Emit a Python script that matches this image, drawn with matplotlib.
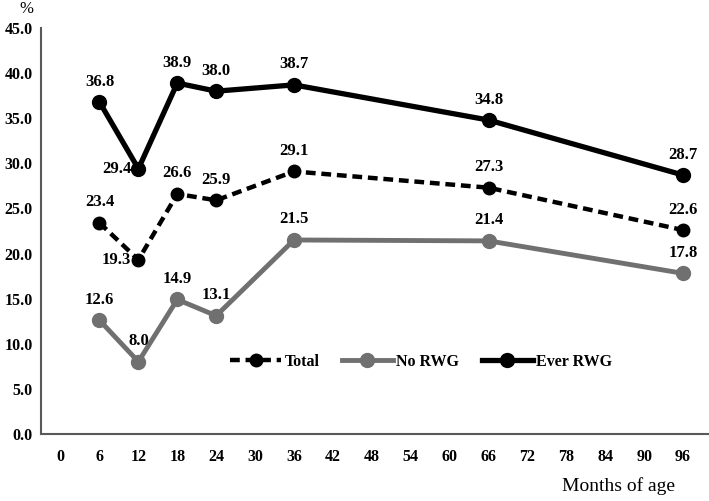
import matplotlib
matplotlib.use("Agg")
import matplotlib.pyplot as plt

# --- Data ---
months = [6, 12, 18, 24, 36, 66, 96]
total = [23.4, 19.3, 26.6, 25.9, 29.1, 27.3, 22.6]
no_rwg = [12.6, 8.0, 14.9, 13.1, 21.5, 21.4, 17.8]
ever_rwg = [36.8, 29.4, 38.9, 38.0, 38.7, 34.8, 28.7]
xticks = list(range(0, 97, 6))
yticks = [0, 5, 10, 15, 20, 25, 30, 35, 40, 45]

plt.rcParams["font.family"] = ["Liberation Serif", "DejaVu Serif"]
plt.rcParams["font.weight"] = "bold"

fig = plt.figure(figsize=(7.09, 5.01), dpi=100)
ax = fig.add_axes([0.058, 0.134, 0.942, 0.81])

gray = "#707070"
ax.plot(months, total, color="black", lw=3.2, ls=(0, (2.2, 1.3)),
        marker="o", ms=9, label="Total", zorder=3)
ax.plot(months, no_rwg, color=gray, lw=3.5, marker="o", ms=10,
        label="No RWG", zorder=3)
ax.plot(months, ever_rwg, color="black", lw=3.8, marker="o", ms=10,
        label="Ever RWG", zorder=3)

# data labels: points at index 1 of Total and Ever RWG sit to the left
left_labels = {("total", 1), ("ever", 1)}
for name, series in [("total", total), ("no", no_rwg), ("ever", ever_rwg)]:
    for i, (x, y) in enumerate(zip(months, series)):
        if (name, i) in left_labels:
            ax.annotate(f"{y:.1f}", (x, y), xytext=(-5, 0), textcoords="offset points",
                        ha="right", va="center", fontsize=12, fontweight="bold")
        else:
            ax.annotate(f"{y:.1f}", (x, y), xytext=(0, 9), textcoords="offset points",
                        ha="center", va="bottom", fontsize=12, fontweight="bold")

ax.set_xlim(-3, 100)
ax.set_ylim(0, 45)
ax.set_xticks(xticks)
ax.set_yticks(yticks)
ax.set_yticklabels([f"{v:.1f}" for v in yticks])
ax.tick_params(length=0, labelsize=11.5)
ax.tick_params(axis="x", pad=11)
ax.tick_params(axis="y", pad=6)
for lab in ax.get_xticklabels() + ax.get_yticklabels():
    lab.set_fontweight("bold")

for s in ["top", "right"]:
    ax.spines[s].set_visible(False)
for s in ["left", "bottom"]:
    ax.spines[s].set_color("#595959")
    ax.spines[s].set_linewidth(1.5)

ax.legend(loc="center", bbox_to_anchor=(0.569, 0.177), ncol=3, frameon=False,
          prop={"weight": "bold", "size": 11.5}, handlelength=3.2,
          columnspacing=1.4, handletextpad=0.2)

fig.text(0.028, 0.998, "%", fontsize=12, fontweight="normal", va="top")
fig.text(0.873, 0.012, "Months of age", fontsize=14, fontweight="normal",
         ha="center", va="bottom")

fig.savefig("out.png", dpi=100)
